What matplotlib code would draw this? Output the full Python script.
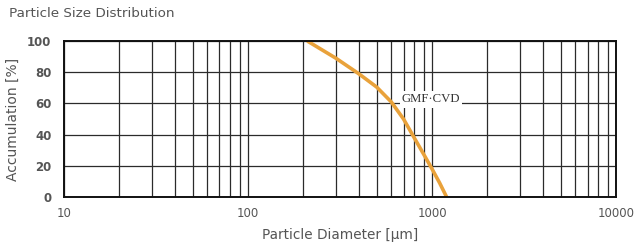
import matplotlib
matplotlib.use("Agg")
import matplotlib.pyplot as plt
import matplotlib.ticker as ticker

# Cumulative particle size distribution
diameter_um = [210, 300, 400, 500, 600, 700, 800, 900, 1000, 1100, 1200]
accumulation = [100, 89, 79, 70.5, 61, 50, 38, 27.5, 18, 9, 0]

series_label = "GMF\u00b7CVD"
y_ticks = [0, 20, 40, 60, 80, 100]
x_ticks = [10, 100, 1000, 10000]

CURVE = "#E9A23B"
GRID = "#2b2b2b"
TEXT = "#555555"

fig = plt.figure(figsize=(6.36, 2.52), dpi=100)
fig.patch.set_facecolor("white")
ax = fig.add_axes([0.1006, 0.2183, 0.868, 0.619])

ax.set_xscale("log")
ax.set_xlim(10, 10000)
ax.set_ylim(0, 100)

ax.plot(diameter_um, accumulation, color=CURVE, linewidth=2.6,
        solid_capstyle="butt", solid_joinstyle="round", zorder=3)

ax.set_xticks(x_ticks)
ax.xaxis.set_major_formatter(ticker.FuncFormatter(lambda v, _: f"{int(v)}"))
ax.xaxis.set_minor_locator(ticker.LogLocator(base=10, subs=range(2, 10)))
ax.xaxis.set_minor_formatter(ticker.NullFormatter())
ax.set_yticks(y_ticks)

ax.grid(True, which="both", axis="x", color=GRID, linewidth=0.9, zorder=1)
ax.grid(True, which="major", axis="y", color=GRID, linewidth=0.9, zorder=1)
ax.tick_params(which="both", length=0, labelcolor=TEXT, labelsize=8.5)
ax.tick_params(axis="x", pad=7)
ax.tick_params(axis="y", pad=9)
for lab in ax.get_yticklabels():
    lab.set_fontweight("bold")
for spine in ax.spines.values():
    spine.set_edgecolor("#111111")
    spine.set_linewidth(1.4)
    spine.set_zorder(4)

# series label sits in a white box just above the 60 % line
ax.text(685, 62.5, series_label, fontsize=9.2, family="Liberation Serif",
        color="#333333", va="center", ha="left", zorder=5,
        bbox=dict(facecolor="white", edgecolor="none", pad=1.5))

ax.set_xlabel("Particle Diameter [\u03bcm]", color=TEXT, fontsize=9.8, labelpad=6)
ax.set_ylabel("Accumulation [%]", color=TEXT, fontsize=10, labelpad=5)

fig.text(0.014, 0.945, "Particle Size Distribution", color=TEXT, fontsize=9.7,
         ha="left", va="center")

fig.savefig("out.png", dpi=100, facecolor=fig.get_facecolor())
